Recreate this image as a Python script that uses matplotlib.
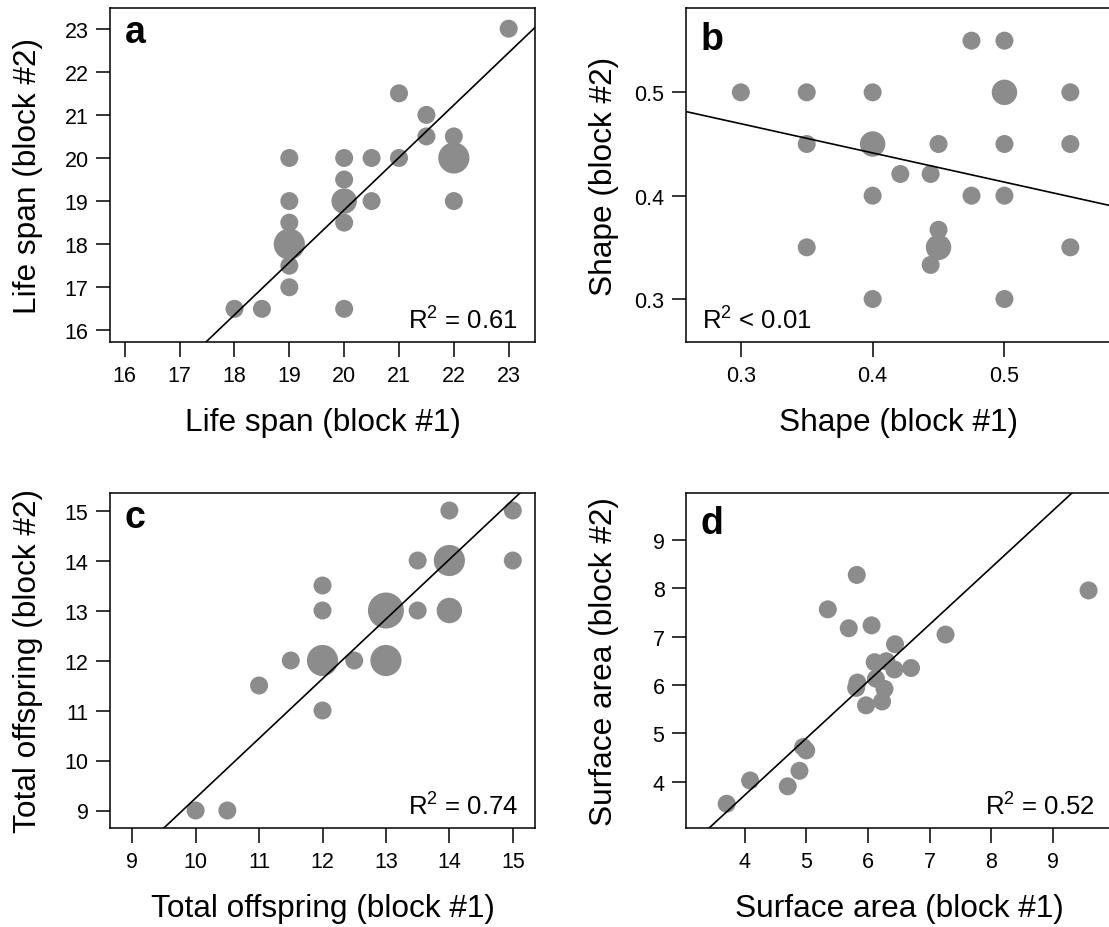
import numpy as np
import matplotlib.pyplot as plt

plt.rcParams['font.family'] = ['Liberation Sans', 'DejaVu Sans']
plt.rcParams['mathtext.fontset'] = 'custom'
plt.rcParams['mathtext.rm'] = 'Liberation Sans'
plt.rcParams['mathtext.it'] = 'Liberation Sans'

# a: life span, repeated measures (count = number of overlapping individuals)
life_x = [23, 21, 21.5, 21.5, 22, 22, 22, 20, 20, 20, 20, 20, 20.5, 20.5, 21,
          19, 19, 19, 19, 19, 19, 18, 18.5]
life_y = [23, 21.5, 21, 20.5, 20.5, 20, 19, 20, 19.5, 19, 18.5, 16.5, 20, 19, 20,
          20, 19, 18.5, 18, 17.5, 17, 16.5, 16.5]
life_n = [1, 1, 1, 1, 1, 3, 1, 1, 1, 2, 1, 1, 1, 1, 1,
          1, 1, 1, 3, 1, 1, 1, 1]
life_fit = (1.2164, -5.533)

# b: shape
shape_x = [0.3, 0.35, 0.4, 0.5, 0.55, 0.475, 0.5, 0.35, 0.4, 0.45, 0.5, 0.55,
           0.421, 0.444, 0.4, 0.475, 0.5, 0.35, 0.45, 0.45, 0.444, 0.55, 0.4, 0.5]
shape_y = [0.5, 0.5, 0.5, 0.5, 0.5, 0.55, 0.55, 0.45, 0.45, 0.45, 0.45, 0.45,
           0.421, 0.421, 0.4, 0.4, 0.4, 0.35, 0.367, 0.35, 0.333, 0.35, 0.3, 0.3]
shape_n = [1, 1, 1, 2, 1, 1, 1, 1, 2, 1, 1, 1,
           1, 1, 1, 1, 1, 1, 1, 2, 1, 1, 1, 1]
shape_fit = (-0.2826, 0.5544)

# c: total offspring
off_x = [10, 10.5, 11, 11.5, 12, 12, 12, 12, 12.5, 13, 13, 13.5, 13.5, 14, 14, 14, 15, 15]
off_y = [9, 9, 11.5, 12, 12, 11, 13, 13.5, 12, 13, 12, 13, 14, 14, 13, 15, 15, 14]
off_n = [1, 1, 1, 1, 3, 1, 1, 1, 1, 4, 3, 1, 1, 3, 2, 1, 1, 1]
off_fit = (1.1934, -2.686)

# d: surface area
area_x = [3.71, 4.09, 4.70, 4.89, 4.95, 5.00, 5.35, 5.69, 5.82, 6.06, 7.26, 9.58,
          6.44, 6.11, 6.30, 6.43, 6.70, 5.83, 5.81, 6.13, 6.27, 6.23, 5.97]
area_y = [3.55, 4.03, 3.91, 4.23, 4.72, 4.65, 7.56, 7.17, 8.27, 7.23, 7.04, 7.95,
          6.84, 6.47, 6.49, 6.32, 6.35, 6.05, 5.94, 6.13, 5.92, 5.66, 5.58]
area_n = [1] * len(area_x)
area_fit = (1.174, -0.971)

panels = [
    dict(letter='a', x=life_x, y=life_y, n=life_n, fit=life_fit, r2=r'R$^2$ = 0.61',
         lim=(15.73, 23.48), ticks=range(16, 24), label='Life span'),
    dict(letter='b', x=shape_x, y=shape_y, n=shape_n, fit=shape_fit, r2=r'R$^2$ < 0.01',
         lim=(0.2584, 0.5816), ticks=[0.3, 0.4, 0.5], label='Shape'),
    dict(letter='c', x=off_x, y=off_y, n=off_n, fit=off_fit, r2=r'R$^2$ = 0.74',
         lim=(8.65, 15.35), ticks=range(9, 16), label='Total offspring'),
    dict(letter='d', x=area_x, y=area_y, n=area_n, fit=area_fit, r2=r'R$^2$ = 0.52',
         lim=(3.05, 9.96), ticks=range(4, 10), label='Surface area'),
]

W, H = 1109, 928
fig = plt.figure(figsize=(W / 100, H / 100), dpi=100)
# axes boxes in pixels: left, top, right, bottom
boxes = [(110, 9, 535, 343), (686, 9, 1112, 343),
         (110, 494, 535, 829), (686, 494, 1112, 829)]
px = 0.72  # points per pixel

for p, (l, t, r, b) in zip(panels, boxes):
    ax = fig.add_axes([l / W, 1 - b / H, (r - l) / W, (b - t) / H])
    x = np.array(p['x'])
    y = np.array(p['y'])
    n = np.array(p['n'])
    ax.scatter(x, y, s=168 * n, color='#8c8c8c', edgecolors='none', zorder=2)

    xs = np.array(p['lim'])
    slope, icpt = p['fit']
    ax.plot(xs, slope * xs + icpt, color='black', lw=1.2, zorder=3)

    ax.set_xlim(p['lim'])
    ax.set_ylim(p['lim'])
    ax.set_xticks(list(p['ticks']))
    ax.set_yticks(list(p['ticks']))
    ax.tick_params(direction='out', length=14.5 * px, width=1.1, labelsize=15.5)
    ax.tick_params(axis='x', pad=9 * px)
    ax.tick_params(axis='y', pad=7 * px)
    for s in ax.spines.values():
        s.set_linewidth(1.1)

    ax.set_xlabel(p['label'] + ' (block #1)', fontsize=22.8)
    ax.set_ylabel(p['label'] + ' (block #2)', fontsize=22.8)
    ax.xaxis.set_label_coords(0.5, -65 / (b - t))
    ax.yaxis.set_label_coords(-67 / (r - l), 0.5)

    base = 34 if p['letter'] in 'ac' else 40.5
    ax.annotate(p['letter'], xy=(0, 1), xycoords='axes fraction',
                xytext=(15 * px, -base * px), textcoords='offset points',
                ha='left', va='baseline', fontsize=27, fontweight='bold')

    if p['letter'] == 'b':
        ax.annotate(p['r2'], xy=(0, 0), xycoords='axes fraction',
                    xytext=(16 * px, 13 * px), textcoords='offset points',
                    ha='left', va='baseline', fontsize=18.5)
    else:
        ax.annotate(p['r2'], xy=(1, 0), xycoords='axes fraction',
                    xytext=(-17 * px, 13 * px), textcoords='offset points',
                    ha='right', va='baseline', fontsize=18.5)

fig.savefig('out.png', dpi=100)
